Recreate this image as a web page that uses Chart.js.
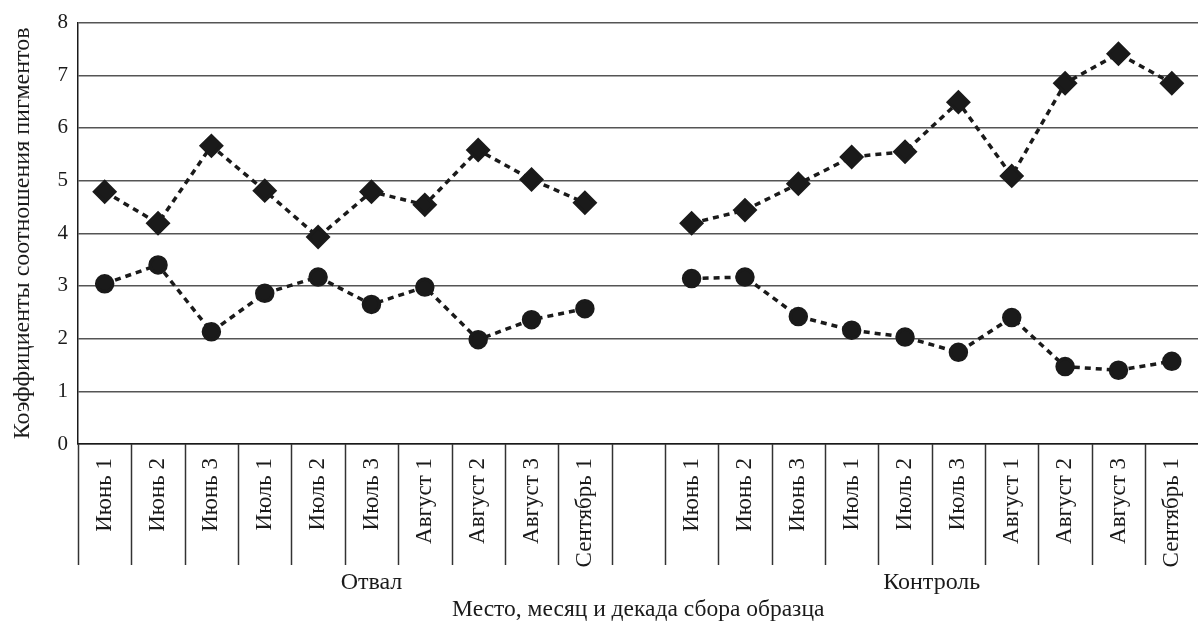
<!DOCTYPE html>
<html>
<head>
<meta charset="utf-8">
<script src="https://cdn.jsdelivr.net/npm/chart.js@4"></script>
<style>
  html, body { margin: 0; padding: 0; background: #fff; overflow: hidden; }
  #wrap { width: 1212px; height: 626px; }
</style>
</head>
<body>
<div id="wrap"><canvas id="pigmentChart" width="1212" height="626"></canvas></div>
<script>
// categories: two sites, one empty slot between them
const months = ['Июнь 1', 'Июнь 2', 'Июнь 3', 'Июль 1', 'Июль 2', 'Июль 3', 'Август 1', 'Август 2', 'Август 3', 'Сентябрь 1'];
const labels = [...months, '', ...months];
const groups = ['Отвал', 'Контроль'];
const yTicks = [0, 1, 2, 3, 4, 5, 6, 7, 8];

// upper series (diamonds)
const diamondOtval = [4.79, 4.19, 5.66, 4.81, 3.93, 4.79, 4.54, 5.58, 5.02, 4.58];
const diamondControl = [4.19, 4.44, 4.94, 5.45, 5.55, 6.49, 5.09, 6.85, 7.41, 6.85];
// lower series (circles)
const circleOtval = [3.04, 3.40, 2.13, 2.86, 3.17, 2.65, 2.98, 1.98, 2.36, 2.57];
const circleControl = [3.14, 3.17, 2.42, 2.16, 2.03, 1.74, 2.40, 1.47, 1.40, 1.57];

const serif = "'Liberation Serif', 'DejaVu Serif', serif";
const ink = '#1a1a1a';

// draws the separators under the axis and the site names
const groupAxis = {
  id: 'groupAxis',
  afterDraw(chart) {
    const x = chart.scales.x;
    const ctx = chart.ctx;
    const half = (x.getPixelForValue(1) - x.getPixelForValue(0)) / 2;
    const top = chart.chartArea.bottom;
    ctx.save();
    ctx.strokeStyle = '#333';
    ctx.lineWidth = 1.5;
    for (let i = 0; i <= labels.length; i++) {
      const px = Math.round(x.getPixelForValue(i) - half) + 0.5;
      ctx.beginPath();
      ctx.moveTo(px, top);
      ctx.lineTo(px, top + 121);
      ctx.stroke();
    }
    ctx.fillStyle = ink;
    ctx.font = '24px ' + serif;
    ctx.textAlign = 'center';
    ctx.textBaseline = 'alphabetic';
    ctx.fillText(groups[0], x.getPixelForValue(5), top + 145);
    ctx.fillText(groups[1], x.getPixelForValue(15.5), top + 145);
    ctx.restore();
  }
};

const lineStyle = {
  borderColor: ink,
  backgroundColor: ink,
  pointBackgroundColor: ink,
  pointBorderColor: ink,
  borderWidth: 3.5,
  borderDash: [6, 5],
  spanGaps: false,
  tension: 0
};

new Chart(document.getElementById('pigmentChart'), {
  type: 'line',
  data: {
    labels: labels,
    datasets: [
      Object.assign({
        label: 'ромбы',
        data: [...diamondOtval, null, ...diamondControl],
        pointStyle: 'rectRot',
        pointRadius: 10
      }, lineStyle),
      Object.assign({
        label: 'круги',
        data: [...circleOtval, null, ...circleControl],
        pointStyle: 'circle',
        pointRadius: 8
      }, lineStyle)
    ]
  },
  options: {
    responsive: false,
    animation: false,
    layout: { padding: { top: 20, right: 3, left: 0, bottom: 0 } },
    plugins: { legend: { display: false }, tooltip: { enabled: false } },
    scales: {
      x: {
        offset: true,
        grid: { display: false, drawOnChartArea: false },
        border: { color: ink, width: 1.5 },
        ticks: {
          minRotation: 90, maxRotation: 90, autoSkip: false, padding: 6,
          color: ink, font: { family: serif, size: 23 }
        },
        title: {
          display: true, text: 'Место, месяц и декада сбора образца',
          color: ink, font: { family: serif, size: 23.5 }, padding: { top: 0, bottom: 2 }
        },
        afterFit(s) { s.height = 182; }
      },
      y: {
        min: yTicks[0],
        max: yTicks[yTicks.length - 1],
        afterBuildTicks(s) { s.ticks = yTicks.map(v => ({ value: v })); },
        grid: { color: '#555', lineWidth: 1.5, drawTicks: false },
        border: { color: ink, width: 1.5 },
        ticks: { padding: 10, color: ink, font: { family: serif, size: 21 } },
        title: {
          display: true, text: 'Коэффициенты соотношения пигментов',
          color: ink, font: { family: serif, size: 24 }, padding: { top: 8, bottom: 0 }
        },
        afterFit(s) { s.width = 78; }
      }
    }
  },
  plugins: [groupAxis]
});
</script>
</body>
</html>
